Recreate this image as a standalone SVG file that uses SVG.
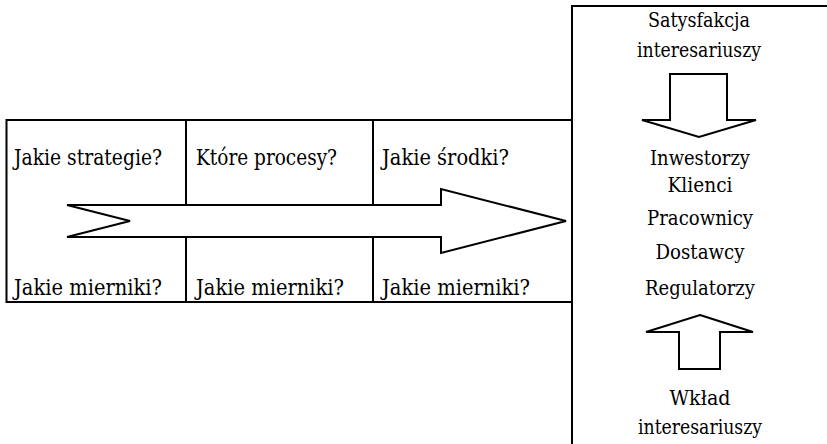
<svg xmlns="http://www.w3.org/2000/svg" width="827" height="444" viewBox="0 0 827 444">
<style>
text{font-family:'DejaVu Serif',serif;font-size:21px;fill:#000}
.l{font-size:22px}
.c{text-anchor:middle}
.s{fill:none;stroke:#000;stroke-width:2}
.a{fill:#fff;stroke:#000;stroke-width:2;stroke-linejoin:miter}
</style>
<rect width="827" height="444" fill="#fff"/>
<g id="matrix">
<rect class="s" x="6.5" y="120" width="565.5" height="182"/>
<line class="s" x1="186" y1="120" x2="186" y2="205"/>
<line class="s" x1="186" y1="237" x2="186" y2="302"/>
<line class="s" x1="373" y1="120" x2="373" y2="205"/>
<line class="s" x1="373" y1="237" x2="373" y2="302"/>
<text class="l" x="14" y="165" textLength="148" lengthAdjust="spacingAndGlyphs">Jakie strategie?</text>
<text class="l" x="196" y="165" textLength="141" lengthAdjust="spacingAndGlyphs">Które procesy?</text>
<text class="l" x="382" y="165" textLength="127" lengthAdjust="spacingAndGlyphs">Jakie środki?</text>
<text class="l" x="14" y="295" textLength="148" lengthAdjust="spacingAndGlyphs">Jakie mierniki?</text>
<text class="l" x="196" y="295" textLength="148" lengthAdjust="spacingAndGlyphs">Jakie mierniki?</text>
<text class="l" x="382" y="295" textLength="148" lengthAdjust="spacingAndGlyphs">Jakie mierniki?</text>
</g>
<g id="connectors">
<path id="main-arrow" class="a" d="M67,205 L441,205 L441,189 L566,221 L441,253 L441,237 L67,237 L130,221 Z"/>
<path id="down-arrow" class="a" d="M670,74 L727,74 L727,120 L756,120 L699,137 L642,120 L670,120 Z"/>
<path id="up-arrow" class="a" d="M700,315 L753,332 L720,332 L720,369 L679,369 L679,332 L646,332 Z"/>
</g>
<g id="stakeholders">
<path class="s" d="M572,444 L572,6 L827,6"/>
<text class="c" x="699" y="27" textLength="102" lengthAdjust="spacingAndGlyphs">Satysfakcja</text>
<text class="c" x="699" y="57" textLength="124" lengthAdjust="spacingAndGlyphs">interesariuszy</text>
<text class="c" x="700" y="165" textLength="100" lengthAdjust="spacingAndGlyphs">Inwestorzy</text>
<text class="c" x="700" y="192" textLength="65" lengthAdjust="spacingAndGlyphs">Klienci</text>
<text class="c" x="700" y="225" textLength="106" lengthAdjust="spacingAndGlyphs">Pracownicy</text>
<text class="c" x="700" y="259" textLength="89" lengthAdjust="spacingAndGlyphs">Dostawcy</text>
<text class="c" x="700" y="295" textLength="110" lengthAdjust="spacingAndGlyphs">Regulatorzy</text>
<text class="c" x="700" y="405" textLength="61" lengthAdjust="spacingAndGlyphs">Wkład</text>
<text class="c" x="700" y="434" textLength="124" lengthAdjust="spacingAndGlyphs">interesariuszy</text>
</g>
</svg>
